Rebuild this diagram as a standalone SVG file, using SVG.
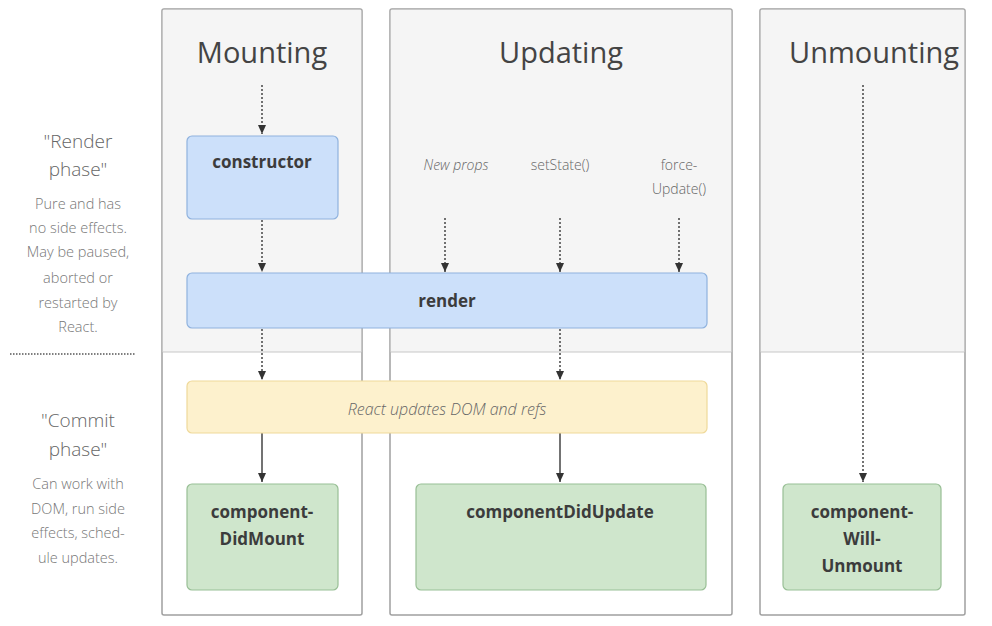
<svg xmlns="http://www.w3.org/2000/svg" width="992" height="626" viewBox="0 0 992 626">
<defs>
<marker id="ah" markerUnits="userSpaceOnUse" markerWidth="10" markerHeight="10" refX="9" refY="5" orient="auto" viewBox="0 0 10 10">
<path d="M0,1 L9,5 L0,9 Z" fill="#333"/>
</marker>
<style>
text{font-family:"Open Sans","Noto Sans","Liberation Sans",sans-serif;text-anchor:middle}
.title{font-size:29px;fill:#444}
.phase{font-size:19px;fill:#666;font-weight:300}
.note{font-size:14.5px;fill:#777;font-weight:300}
.lbl{font-size:14px;fill:#666;font-weight:300}
.node{font-size:17px;font-weight:700;fill:#3c3c3c}
.panel{fill:#fff;stroke:#a0a0a0;stroke-width:1.5}
.top{fill:#f5f5f5}
.sep{stroke:#c8c8c8;stroke-width:1.2}
.blue{fill:#cce0fa;stroke:#8fb2de;stroke-width:1.2}
.yellow{fill:#fdf1cd;stroke:#efd99a;stroke-width:1.2}
.green{fill:#cfe6cc;stroke:#98bf95;stroke-width:1.2}
.dot{stroke:#444;stroke-width:1.5;stroke-dasharray:2 2;fill:none}
.solid{stroke:#444;stroke-width:1.5;fill:none}
</style>
</defs>
<rect width="992" height="626" fill="#fff"/>

<g id="legend">
<text class="phase" x="78" y="148">"Render</text>
<text class="phase" x="78" y="176">phase"</text>
<text class="note" x="78" y="209">Pure and has</text>
<text class="note" x="78" y="233">no side effects.</text>
<text class="note" x="78" y="257">May be paused,</text>
<text class="note" x="78" y="283">aborted or</text>
<text class="note" x="78" y="308">restarted by</text>
<text class="note" x="78" y="332">React.</text>
<line x1="10" y1="354" x2="135" y2="354" stroke="#555" stroke-width="1.5" stroke-dasharray="1.5 1.5"/>
<text class="phase" x="78" y="427">"Commit</text>
<text class="phase" x="78" y="456">phase"</text>
<text class="note" x="78" y="489">Can work with</text>
<text class="note" x="78" y="514">DOM, run side</text>
<text class="note" x="78" y="538">effects, sched-</text>
<text class="note" x="78" y="563">ule updates.</text>
</g>

<g id="panel-mounting">
<rect class="panel" x="162" y="9" width="200" height="606" rx="2"/>
<rect class="top" x="162.75" y="9.75" width="198.5" height="342.25"/>
<line class="sep" x1="162.75" y1="352" x2="361.25" y2="352"/>
<text class="title" x="262" y="63">Mounting</text>
</g>
<g id="panel-updating">
<rect class="panel" x="390" y="9" width="342" height="606" rx="2"/>
<rect class="top" x="390.75" y="9.75" width="340.5" height="342.25"/>
<line class="sep" x1="390.75" y1="352" x2="731.25" y2="352"/>
<text class="title" x="561" y="63">Updating</text>
<text class="lbl" x="456" y="170" font-style="italic">New props</text>
<text class="lbl" x="560" y="170">setState()</text>
<text class="lbl" x="679" y="170">force-</text>
<text class="lbl" x="679" y="194">Update()</text>
</g>
<g id="panel-unmounting">
<rect class="panel" x="760" y="9" width="205" height="606" rx="2"/>
<rect class="top" x="760.75" y="9.75" width="203.5" height="342.25"/>
<line class="sep" x1="760.75" y1="352" x2="964.25" y2="352"/>
<text class="title" x="874" y="63">Unmounting</text>
</g>

<g id="connectors">
<line class="dot" x1="262" y1="85" x2="262" y2="134" marker-end="url(#ah)"/>
<line class="dot" x1="262" y1="220" x2="262" y2="272" marker-end="url(#ah)"/>
<line class="dot" x1="445" y1="218" x2="445" y2="272" marker-end="url(#ah)"/>
<line class="dot" x1="560" y1="218" x2="560" y2="272" marker-end="url(#ah)"/>
<line class="dot" x1="679" y1="218" x2="679" y2="272" marker-end="url(#ah)"/>
<line class="dot" x1="262" y1="329" x2="262" y2="380" marker-end="url(#ah)"/>
<line class="dot" x1="560" y1="329" x2="560" y2="380" marker-end="url(#ah)"/>
<line class="solid" x1="262" y1="433" x2="262" y2="482" marker-end="url(#ah)"/>
<line class="solid" x1="560" y1="433" x2="560" y2="482" marker-end="url(#ah)"/>
<line class="dot" x1="863" y1="85" x2="863" y2="482" marker-end="url(#ah)"/>
</g>

<g id="node-constructor">
<rect class="blue" x="187" y="136" width="151" height="83" rx="5"/>
<text class="node" x="262" y="168">constructor</text>
</g>
<g id="node-render">
<rect class="blue" x="187" y="273" width="520" height="55" rx="5"/>
<text class="node" x="447" y="307">render</text>
</g>
<g id="node-react-updates">
<rect class="yellow" x="187" y="381" width="520" height="52" rx="5"/>
<text x="447" y="415" font-size="16" font-style="italic" fill="#666" font-weight="300">React updates DOM and refs</text>
</g>
<g id="node-componentDidMount">
<rect class="green" x="187" y="484" width="151" height="106" rx="5"/>
<text class="node" x="262" y="518">component-</text>
<text class="node" x="262" y="545">DidMount</text>
</g>
<g id="node-componentDidUpdate">
<rect class="green" x="416" y="484" width="290" height="106" rx="5"/>
<text class="node" x="560" y="518">componentDidUpdate</text>
</g>
<g id="node-componentWillUnmount">
<rect class="green" x="783" y="484" width="158" height="106" rx="5"/>
<text class="node" x="862" y="518">component-</text>
<text class="node" x="862" y="545">Will-</text>
<text class="node" x="862" y="572">Unmount</text>
</g>
</svg>
